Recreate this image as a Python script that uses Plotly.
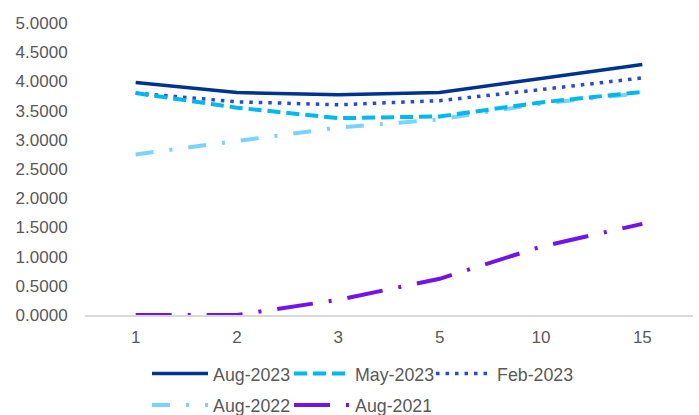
import plotly.graph_objects as go

# Tenor buckets (years) shown as categories on the x-axis
tenors = ["1", "2", "3", "5", "10", "15"]

aug_2023 = [3.98, 3.81, 3.77, 3.81, 4.05, 4.29]
may_2023 = [3.80, 3.55, 3.37, 3.40, 3.64, 3.82]
feb_2023 = [3.80, 3.65, 3.60, 3.67, 3.86, 4.06]
aug_2022 = [2.75, 2.98, 3.21, 3.35, 3.62, 3.80]
aug_2021 = [0.00, 0.00, 0.26, 0.62, 1.17, 1.56]

# name, values, colour, dash pattern, width, legend row
series = [
    ("Aug-2023", aug_2023, "#00338D", "solid", 3.5, "legend"),
    ("May-2023", may_2023, "#00B8F0", "13px,6px", 4, "legend"),
    ("Feb-2023", feb_2023, "#2447E6", "3.5px,6px", 3.5, "legend"),
    ("Aug-2022", aug_2022, "#7AD3FF", "18px,16px,3px,16px", 4, "legend2"),
    ("Aug-2021", aug_2021, "#7213EA", "36px,16px,3px,16px", 4, "legend2"),
]

# draw back-to-front so the most recent curve sits on top
fig = go.Figure()
for name, vals, color, dash, width, leg in reversed(series):
    fig.add_trace(go.Scatter(
        x=tenors, y=vals, name=name, mode="lines", legend=leg,
        line=dict(color=color, dash=dash, width=width),
    ))

font = dict(family="Liberation Sans, Arial, sans-serif", color="#595959")

legend_common = dict(
    orientation="h", traceorder="reversed",
    x=0.102, xanchor="left", yanchor="middle",
    font=dict(size=17.8, **font),
    entrywidth=71, itemwidth=56,
    bgcolor="rgba(0,0,0,0)",
)

fig.update_layout(
    width=699, height=415,
    margin=dict(l=85, r=6, t=23, b=100, autoexpand=False),
    plot_bgcolor="white", paper_bgcolor="white",
    font=dict(size=17, **font),
    showlegend=True,
    legend=dict(y=-0.202, **legend_common),
    legend2=dict(y=-0.31, **legend_common),
    xaxis=dict(
        type="category", range=[-0.5, 5.5], showgrid=False, zeroline=False,
        showline=True, linecolor="#D9D9D9", linewidth=1.5,
        ticks="outside", ticklen=6, tickcolor="rgba(0,0,0,0)",
        tickfont=dict(size=17, **font),
    ),
    yaxis=dict(
        range=[0, 5], dtick=0.5, tickformat=".4f",
        showgrid=False, zeroline=False, showline=False,
        ticks="outside", ticklen=13, tickcolor="rgba(0,0,0,0)",
        tickfont=dict(size=17, **font),
    ),
)

fig.write_html("out.html")
